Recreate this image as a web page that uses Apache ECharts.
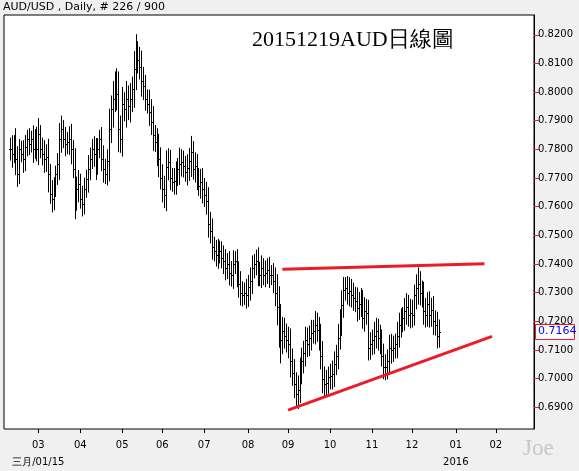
<!DOCTYPE html>
<html><head><meta charset="utf-8">
<script src="https://cdn.jsdelivr.net/npm/echarts@6/dist/echarts.min.js"></script>
<style>html,body{margin:0;padding:0;background:#f0f0f0}#c{width:579px;height:471px}</style>
</head><body><div id="c"></div>
<script>
// closes in pips (x10000)
const closes = [
7801,7784,7818,7766,7714,7801,7784,7766,7808,7836,
7818,7836,7801,7836,7801,7853,7801,7784,7766,7773,
7714,7645,7628,7663,7714,7749,7836,7870,7836,7818,7826,
7836,7801,7732,7628,7663,7680,7628,7611,7663,7697,
7732,7766,7801,7784,7749,7801,7836,7766,7732,7714,7760,
7870,7940,7975,8027,7992,7870,7836,7957,7940,7975,
7950,7975,8009,8079,8130,8113,8089,8040,8020,7975,7960,
7930,7895,7850,7826,7790,7767,7700,7663,7640,7740,
7756,7700,7687,7690,7710,7732,7750,7756,7742,7722,7735,
7760,7791,7732,7742,7700,7673,7687,7660,7639,7620,
7540,7514,7460,7444,7431,7440,7444,7420,7410,7385,7400,
7370,7361,7400,7410,7361,7330,7300,7292,7300,7292,
7320,7340,7385,7400,7410,7370,7361,7385,7361,7370,7380,
7361,7361,7340,7300,7250,7180,7133,7167,7150,7133,
7119,7060,7020,6980,6945,6960,7028,7060,7090,7133,7120,
7143,7160,7167,7188,7170,7143,7080,7000,6980,6985,
7004,7010,7015,7050,7080,7143,7200,7257,7310,7316,7300,
7306,7290,7282,7270,7247,7260,7271,7212,7236,7230,
7108,7120,7133,7150,7167,7140,7133,7080,7040,7039,7060,
7108,7100,7108,7119,7150,7188,7200,7212,7236,7250,
7223,7230,7223,7290,7316,7330,7300,7290,7236,7223,7260,
7223,7240,7200,7188,7150,7164];
// extra wick beyond open/close (pips)
const ext = [
40,48,32,56,45,35,29,48,42,32, 38,29,48,35,43,56,32,40,48,45,
64,35,48,40,29,38,56,48,32,42,35, 45,53,32,72,42,48,35,45,38,32,
48,40,35,45,56,38,32,42,48,35,40, 72,48,64,45,56,80,48,61,42,64,
48,56,45,64,72,48,45,56,48,40,35, 48,45,56,35,48,64,40,48,45,56,
48,42,35,45,48,38,56,45,40,35,48, 45,56,38,48,42,35,45,48,40,48,
48,42,45,35,40,48,38,35,45,42,38, 45,40,48,35,42,48,45,40,35,48,
42,48,45,35,40,48,38,45,35,42,40, 45,35,42,48,64,72,80,48,45,42,
48,56,45,48,42,51,45,48,42,48,45, 42,45,38,48,42,45,48,51,42,45,
38,42,48,45,38,48,42,51,45,38,42, 48,42,45,38,48,42,45,38,48,42,
45,42,38,48,45,42,48,38,42,45,42, 45,48,42,38,48,42,45,38,45,48,
42,48,45,38,48,58,45,42,48,45,42, 45,42,48,38,45,42];
const monthNames = {1:'01',2:'02',3:'03',4:'04',5:'05',6:'06',7:'07',8:'08',9:'09',10:'10',11:'11',12:'12'};
const lead = 3;
const upperLine = [[146,0.7382],[252,0.7401]];
const lowerLine = [[149,0.6890],[256,0.7147]];
const lastPrice = 0.7164;

// trading-day categories
const cats = ['','','']; const monthStart = {};
let d = new Date(Date.UTC(2015,1,9)); let prevM = -1;
while (cats.length < 279) {
  const wd = d.getUTCDay();
  if (wd !== 0 && wd !== 6) {
    const m = d.getUTCMonth()+1;
    if (m !== prevM && prevM !== -1 && !(m===3 && cats.length>100)) monthStart[cats.length] = m;
    prevM = m;
    cats.push(d.getUTCFullYear()+'-'+m+'-'+d.getUTCDate());
  }
  d = new Date(d.getTime()+86400000);
}
const ohlc = closes.map((c,i)=>{
  const o = i>0 ? closes[i-1] : c;
  const h = Math.max(o,c)+ext[i], l = Math.min(o,c)-ext[i];
  return [i+lead, o/1e4, h/1e4, l/1e4, c/1e4];
});
const chart = echarts.init(document.getElementById('c'));
const ticks = []; for (let v=69; v<=82; v++) ticks.push(v/100);
chart.setOption({
  animation:false, backgroundColor:'#f0f0f0',
  grid:{left:4,right:45,top:15,bottom:39,show:true,backgroundColor:'#fff',borderColor:'#000',borderWidth:1},
  xAxis:{type:'category',data:cats,boundaryGap:false,
    axisLine:{show:false},
    axisTick:{interval:(i)=>monthStart[i]!==undefined,length:4,lineStyle:{color:'#000'}},
    axisLabel:{interval:(i)=>monthStart[i]!==undefined,color:'#000',fontFamily:'DejaVu Sans',fontSize:10,margin:8,lineHeight:17,
      formatter:(v,i)=>{const m=monthStart[i]; if(m===3) return '03\n三月/01/15'; if(m===1) return '01\n2016'; return monthNames[m];}},
    splitLine:{show:false}},
  yAxis:{type:'value',position:'right',min:0.6824,max:0.8269,
    axisLine:{show:true,lineStyle:{color:'#000'}},
    axisTick:{show:true,customValues:ticks,length:5,lineStyle:{color:'#e8202a'}},
    axisLabel:{customValues:ticks,color:'#000',fontFamily:'DejaVu Sans',fontSize:10,margin:4,formatter:v=>v.toFixed(4)},
    splitLine:{show:false}},
  series:[
    {type:'custom',data:ohlc,encode:{x:0,y:[1,2,3,4]},clip:true,
     renderItem:(p,api)=>{
       const x=api.value(0);
       const po=api.coord([x,api.value(1)]),ph=api.coord([x,api.value(2)]),pl=api.coord([x,api.value(3)]),pc=api.coord([x,api.value(4)]);
       const cx=Math.round(po[0])+0.5;
       return {type:'group',children:[
         {type:'line',shape:{x1:cx,y1:ph[1],x2:cx,y2:pl[1]},style:{stroke:'#000',lineWidth:1}},
         {type:'line',shape:{x1:cx-1.5,y1:Math.round(po[1])+0.5,x2:cx,y2:Math.round(po[1])+0.5},style:{stroke:'#000',lineWidth:1}},
         {type:'line',shape:{x1:cx,y1:Math.round(pc[1])+0.5,x2:cx+1.5,y2:Math.round(pc[1])+0.5},style:{stroke:'#000',lineWidth:1}}
       ]};
     }},
    {type:'line',data:upperLine,symbol:'none',lineStyle:{color:'#ec1c24',width:3}},
    {type:'line',data:lowerLine,symbol:'none',lineStyle:{color:'#ec1c24',width:3}}
  ],
  graphic:[
    {type:'text',left:3,top:2,style:{text:'AUD/USD , Daily, # 226 / 900',fill:'#000',fontSize:11,fontFamily:'DejaVu Sans'}},
    {type:'text',left:252,top:29,style:{text:'20151219AUD日線圖',fill:'#000',fontSize:22,fontFamily:'Liberation Serif'}},
    {type:'text',left:523,top:437,style:{text:'Joe',fill:'#c8c8c8',fontSize:23,fontFamily:'Liberation Serif'}}
  ]
});
const py = chart.convertToPixel({yAxisIndex:0}, lastPrice);
chart.setOption({graphic:[{},{},{},
  {type:'rect',shape:{x:535.5,y:Math.round(py)-7.5,width:39,height:15},style:{fill:'#fff',stroke:'#ec1c24',lineWidth:1}},
  {type:'text',x:538,y:Math.round(py)-6,style:{text:'0.7164',fill:'#0000ff',fontSize:11,fontFamily:'DejaVu Sans'}}
]});
</script></body></html>
